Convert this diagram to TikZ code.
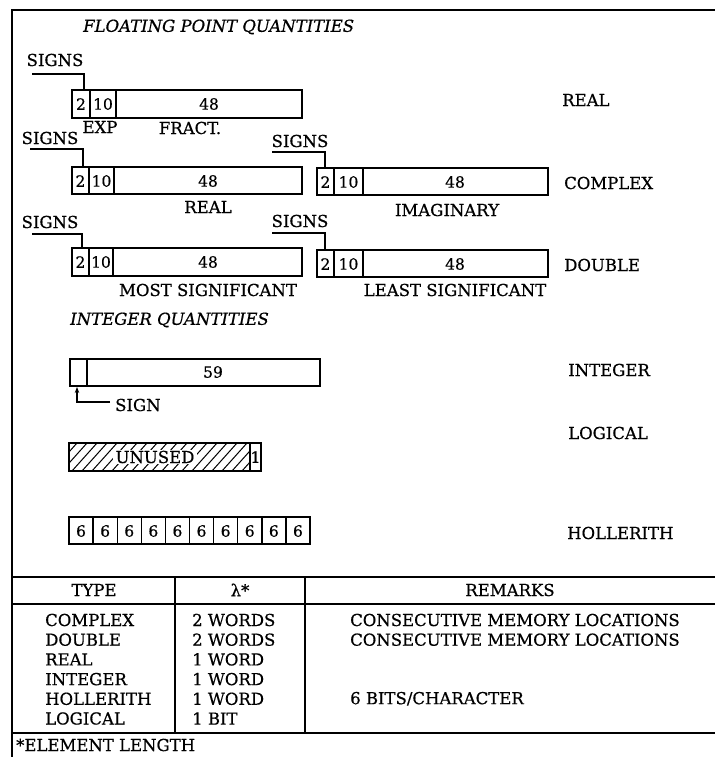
\documentclass[tikz,border=0pt]{standalone}
\usepackage{fontspec}
\setmainfont{DejaVu Serif}[FakeBold=0.6]
\usetikzlibrary{arrows.meta}
\begin{document}
\begin{tikzpicture}[x=1pt,y=-1pt,
  every node/.style={inner sep=0pt, font=\fontsize{16.5}{19}\selectfont},
  ttl/.style={font=\fontsize{16.5}{19}\selectfont\itshape},
  num/.style={font=\fontsize{15.5}{18}\selectfont},
  box/.style={draw, line width=1.4pt},
  lead/.style={line width=1.2pt},
  frame/.style={line width=1.6pt}]
\useasboundingbox (0,0) rectangle (715,757);
% outer frame
\draw[frame] (12,757) -- (12,10) -- (715,10);
% title
\node[ttl, anchor=west] (t1) at (83,27) {FLOATING POINT QUANTITIES};
% ---------------- REAL
\draw[box] (72,90) rectangle (302,118);
\draw[box] (90,90) -- (90,118) (116,90) -- (116,118);
\node[num] (ra) at (81,104) {2};
\node[num] (rb) at (103,104) {10};
\node[num] (rc) at (209,104) {48};
\node (rs) at (55,60) {SIGNS};
\coordinate (rsl) at (32,74);
\coordinate (rst) at (84,90);
\draw[lead] (rsl) -| (rst);
\node (rexp) at (100,127) {EXP};
\node (rfr) at (190,128) {FRACT.};
\node[anchor=west] (lreal) at (562,100) {REAL};
% ---------------- COMPLEX
\draw[box] (72,167) rectangle (302,194);
\draw[box] (89,167) -- (89,194) (114,167) -- (114,194);
\node[num] (ca) at (80.5,181) {2};
\node[num] (cb) at (101.5,181) {10};
\node[num] (cc) at (208,181) {48};
\node (cs) at (50,138) {SIGNS};
\coordinate (csl) at (30,149);
\coordinate (cst) at (83,167);
\draw[lead] (csl) -| (cst);
\node (creal) at (208,207) {REAL};
\draw[box] (317,168) rectangle (548,195);
\draw[box] (334,168) -- (334,195) (363,168) -- (363,195);
\node[num] (ia) at (325.5,182) {2};
\node[num] (ib) at (348.5,182) {10};
\node[num] (ic) at (455,182) {48};
\node (is) at (300,141) {SIGNS};
\coordinate (isl) at (272,152);
\coordinate (ist) at (325,168);
\draw[lead] (isl) -| (ist);
\node (cimg) at (447,210) {IMAGINARY};
\node[anchor=west] (lcomplex) at (564,183) {COMPLEX};
% ---------------- DOUBLE
\draw[box] (72,248) rectangle (302,276);
\draw[box] (89,248) -- (89,276) (113,248) -- (113,276);
\node[num] (da) at (80.5,262) {2};
\node[num] (db) at (101,262) {10};
\node[num] (dc) at (208,262) {48};
\node (ds) at (50,222) {SIGNS};
\coordinate (dsl) at (32,234);
\coordinate (dst) at (82,248);
\draw[lead] (dsl) -| (dst);
\node (dmost) at (208,290) {MOST SIGNIFICANT};
\draw[box] (317,250) rectangle (548,277);
\draw[box] (334,250) -- (334,277) (363,250) -- (363,277);
\node[num] (ea) at (325.5,264) {2};
\node[num] (eb) at (348.5,264) {10};
\node[num] (ec) at (455,264) {48};
\node (es) at (300,221) {SIGNS};
\coordinate (esl) at (272,233);
\coordinate (est) at (325,250);
\draw[lead] (esl) -| (est);
\node (dleast) at (455,290) {LEAST SIGNIFICANT};
\node[anchor=west] (ldouble) at (564,265) {DOUBLE};
% ---------------- INTEGER
\node[ttl, anchor=west] (t2) at (70,320) {INTEGER QUANTITIES};
\draw[box] (70,359) rectangle (320,386);
\draw[box] (87,359) -- (87,386);
\node[num] (ga) at (213,372) {59};
\coordinate (gsl) at (110,402);
\coordinate (gst) at (77,387);
\draw[lead, -{Stealth[length=6pt,width=4.5pt]}] (gsl) -| (gst);
\node[anchor=west] (gsign) at (115,405) {SIGN};
\node[anchor=west] (linteger) at (568,370) {INTEGER};
% ---------------- LOGICAL
\node[anchor=west] (llogical) at (568,433) {LOGICAL};
\begin{scope}
  \clip (69,443) rectangle (250,471);
  \foreach \x in {42,52,...,262} {
    \draw[line width=1pt] (\x,471) -- (\x+25,443);
  }
\end{scope}
\draw[box] (69,443) rectangle (261,471);
\draw[box] (250,443) -- (250,471);
\node[fill=white, inner xsep=3pt, inner ysep=1pt] (lu) at (155,457) {UNUSED};
\node[num] (lb) at (255.5,457) {1};
% ---------------- HOLLERITH
\draw[box] (69,517) rectangle (310,544);
\foreach \i in {1,...,9} {
  \draw[box] (69+24.1*\i,517) -- (69+24.1*\i,544);
}
\foreach \i in {0,...,9} {
  \node[num] (h\i) at (69+24.1*\i+12.05,531) {6};
}
\node[anchor=west] (lholl) at (567,533) {HOLLERITH};
% ---------------- TABLE
\draw[frame] (12,577) -- (715,577) (12,604) -- (715,604) (12,733) -- (715,733);
\draw[frame] (175,577) -- (175,733) (305,577) -- (305,733);
\node (hty) at (94,590) {TYPE};
\node (hla) at (240,590) {λ*};
\node (hre) at (510,590) {REMARKS};
\foreach \t/\l/\r [count=\i from 0] in {COMPLEX/2 WORDS/CONSECUTIVE MEMORY LOCATIONS,
  DOUBLE/2 WORDS/CONSECUTIVE MEMORY LOCATIONS,
  REAL/1 WORD/,
  INTEGER/1 WORD/,
  HOLLERITH/1 WORD/6 BITS\slash CHARACTER,
  LOGICAL/1 BIT/} {
  \node[anchor=west] (ty\i) at (45,620+19.7*\i) {\t};
  \node[anchor=west] (la\i) at (192,620+19.7*\i) {\l};
  \node[anchor=west] (re\i) at (350,620+19.7*\i) {\r};
}
\node[anchor=west] (foot) at (16,745) {*ELEMENT LENGTH};
\end{tikzpicture}
\end{document}
